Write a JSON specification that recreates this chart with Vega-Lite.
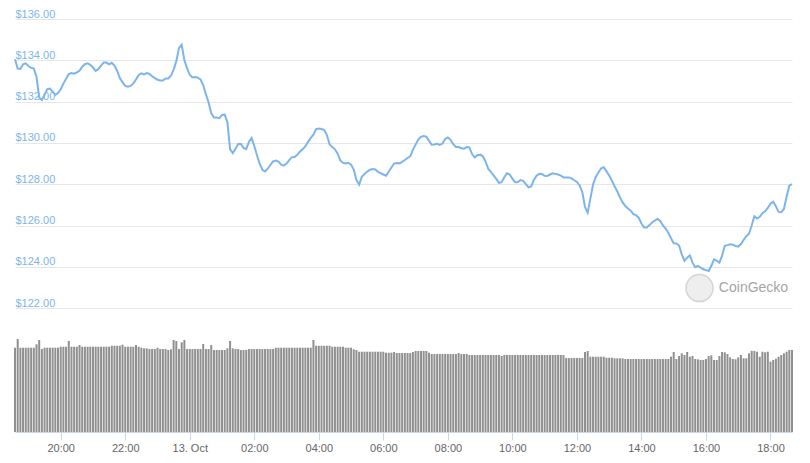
{
"$schema": "https://vega.github.io/schema/vega-lite/v6.json",
"width": 777, "height": 413,
"autosize": {"type": "none"},
"padding": {"left": 15, "top": 19, "right": 18, "bottom": 31},
"background": "#ffffff",
"config": {"view": {"stroke": null}, "font": "Liberation Sans"},
"data": {"values": [
{"t":"2019-10-12T18:35","p":134.05,"v":2041},{"t":"2019-10-12T18:40","p":133.6,"v":2252},{"t":"2019-10-12T18:45","p":133.58,"v":2041},{"t":"2019-10-12T18:50","p":133.81,"v":2041},{"t":"2019-10-12T18:55","p":133.85,"v":2041},
{"t":"2019-10-12T19:00","p":133.72,"v":2041},{"t":"2019-10-12T19:05","p":133.64,"v":2041},{"t":"2019-10-12T19:10","p":133.6,"v":2041},{"t":"2019-10-12T19:15","p":133.2,"v":2123},{"t":"2019-10-12T19:20","p":132.2,"v":2227},{"t":"2019-10-12T19:25","p":132.07,"v":2009},{"t":"2019-10-12T19:30","p":132.34,"v":2041},{"t":"2019-10-12T19:35","p":132.6,"v":2041},{"t":"2019-10-12T19:40","p":132.63,"v":2041},{"t":"2019-10-12T19:45","p":132.48,"v":2041},{"t":"2019-10-12T19:50","p":132.32,"v":2041},{"t":"2019-10-12T19:55","p":132.41,"v":2041},
{"t":"2019-10-12T20:00","p":132.6,"v":2065},{"t":"2019-10-12T20:05","p":132.87,"v":2065},{"t":"2019-10-12T20:10","p":133.11,"v":2065},{"t":"2019-10-12T20:15","p":133.33,"v":2203},{"t":"2019-10-12T20:20","p":133.38,"v":2065},{"t":"2019-10-12T20:25","p":133.35,"v":2065},{"t":"2019-10-12T20:30","p":133.42,"v":2065},{"t":"2019-10-12T20:35","p":133.49,"v":2106},{"t":"2019-10-12T20:40","p":133.69,"v":2065},{"t":"2019-10-12T20:45","p":133.81,"v":2065},{"t":"2019-10-12T20:50","p":133.85,"v":2065},{"t":"2019-10-12T20:55","p":133.78,"v":2065},
{"t":"2019-10-12T21:00","p":133.65,"v":2065},{"t":"2019-10-12T21:05","p":133.49,"v":2065},{"t":"2019-10-12T21:10","p":133.57,"v":2065},{"t":"2019-10-12T21:15","p":133.74,"v":2065},{"t":"2019-10-12T21:20","p":133.89,"v":2065},{"t":"2019-10-12T21:25","p":133.89,"v":2065},{"t":"2019-10-12T21:30","p":133.8,"v":2065},{"t":"2019-10-12T21:35","p":133.88,"v":2089},{"t":"2019-10-12T21:40","p":133.74,"v":2089},{"t":"2019-10-12T21:45","p":133.49,"v":2089},{"t":"2019-10-12T21:50","p":133.14,"v":2089},{"t":"2019-10-12T21:55","p":132.93,"v":2114},
{"t":"2019-10-12T22:00","p":132.76,"v":2065},{"t":"2019-10-12T22:05","p":132.72,"v":2065},{"t":"2019-10-12T22:10","p":132.76,"v":2065},{"t":"2019-10-12T22:15","p":132.88,"v":2065},{"t":"2019-10-12T22:20","p":133.07,"v":2106},{"t":"2019-10-12T22:25","p":133.29,"v":2065},{"t":"2019-10-12T22:30","p":133.37,"v":2041},{"t":"2019-10-12T22:35","p":133.32,"v":2026},{"t":"2019-10-12T22:40","p":133.38,"v":2026},{"t":"2019-10-12T22:45","p":133.34,"v":2009},{"t":"2019-10-12T22:50","p":133.23,"v":2009},{"t":"2019-10-12T22:55","p":133.14,"v":2009},
{"t":"2019-10-12T23:00","p":133.06,"v":2041},{"t":"2019-10-12T23:05","p":133.02,"v":2009},{"t":"2019-10-12T23:10","p":133.02,"v":2009},{"t":"2019-10-12T23:15","p":133.12,"v":2009},{"t":"2019-10-12T23:20","p":133.12,"v":1985},{"t":"2019-10-12T23:25","p":133.25,"v":2002},{"t":"2019-10-12T23:30","p":133.55,"v":2227},{"t":"2019-10-12T23:35","p":133.96,"v":2203},{"t":"2019-10-12T23:40","p":134.6,"v":2009},{"t":"2019-10-12T23:45","p":134.75,"v":2172},{"t":"2019-10-12T23:50","p":134.0,"v":2227},{"t":"2019-10-12T23:55","p":133.62,"v":2009},
{"t":"2019-10-13T00:00","p":133.3,"v":2009},{"t":"2019-10-13T00:05","p":133.17,"v":2009},{"t":"2019-10-13T00:10","p":133.19,"v":2009},{"t":"2019-10-13T00:15","p":133.16,"v":2009},{"t":"2019-10-13T00:20","p":133.07,"v":2009},{"t":"2019-10-13T00:25","p":132.8,"v":2130},{"t":"2019-10-13T00:30","p":132.36,"v":2009},{"t":"2019-10-13T00:35","p":131.96,"v":2009},{"t":"2019-10-13T00:40","p":131.43,"v":2106},{"t":"2019-10-13T00:45","p":131.23,"v":1985},{"t":"2019-10-13T00:50","p":131.23,"v":1985},{"t":"2019-10-13T00:55","p":131.2,"v":1985},
{"t":"2019-10-13T01:00","p":131.35,"v":1985},{"t":"2019-10-13T01:05","p":131.37,"v":1985},{"t":"2019-10-13T01:10","p":131.0,"v":2026},{"t":"2019-10-13T01:15","p":129.7,"v":2203},{"t":"2019-10-13T01:20","p":129.5,"v":2026},{"t":"2019-10-13T01:25","p":129.72,"v":2009},{"t":"2019-10-13T01:30","p":129.95,"v":2009},{"t":"2019-10-13T01:35","p":129.95,"v":1985},{"t":"2019-10-13T01:40","p":129.76,"v":1985},{"t":"2019-10-13T01:45","p":129.7,"v":1985},{"t":"2019-10-13T01:50","p":130.05,"v":2009},{"t":"2019-10-13T01:55","p":130.24,"v":2009},
{"t":"2019-10-13T02:00","p":129.85,"v":2009},{"t":"2019-10-13T02:05","p":129.4,"v":2009},{"t":"2019-10-13T02:10","p":128.99,"v":2009},{"t":"2019-10-13T02:15","p":128.7,"v":2009},{"t":"2019-10-13T02:20","p":128.62,"v":2009},{"t":"2019-10-13T02:25","p":128.75,"v":2009},{"t":"2019-10-13T02:30","p":128.94,"v":2009},{"t":"2019-10-13T02:35","p":129.1,"v":2009},{"t":"2019-10-13T02:40","p":129.14,"v":2041},{"t":"2019-10-13T02:45","p":129.09,"v":2041},{"t":"2019-10-13T02:50","p":128.95,"v":2041},{"t":"2019-10-13T02:55","p":128.9,"v":2041},
{"t":"2019-10-13T03:00","p":129.0,"v":2041},{"t":"2019-10-13T03:05","p":129.17,"v":2041},{"t":"2019-10-13T03:10","p":129.31,"v":2041},{"t":"2019-10-13T03:15","p":129.32,"v":2041},{"t":"2019-10-13T03:20","p":129.42,"v":2041},{"t":"2019-10-13T03:25","p":129.58,"v":2041},{"t":"2019-10-13T03:30","p":129.69,"v":2041},{"t":"2019-10-13T03:35","p":129.84,"v":2041},{"t":"2019-10-13T03:40","p":130.05,"v":2041},{"t":"2019-10-13T03:45","p":130.24,"v":2041},{"t":"2019-10-13T03:50","p":130.4,"v":2227},{"t":"2019-10-13T03:55","p":130.67,"v":2089},
{"t":"2019-10-13T04:00","p":130.7,"v":2089},{"t":"2019-10-13T04:05","p":130.67,"v":2089},{"t":"2019-10-13T04:10","p":130.62,"v":2089},{"t":"2019-10-13T04:15","p":130.38,"v":2089},{"t":"2019-10-13T04:20","p":129.93,"v":2089},{"t":"2019-10-13T04:25","p":129.8,"v":2065},{"t":"2019-10-13T04:30","p":129.69,"v":2065},{"t":"2019-10-13T04:35","p":129.48,"v":2065},{"t":"2019-10-13T04:40","p":129.15,"v":2065},{"t":"2019-10-13T04:45","p":129.03,"v":2065},{"t":"2019-10-13T04:50","p":129.0,"v":2041},{"t":"2019-10-13T04:55","p":129.04,"v":2041},
{"t":"2019-10-13T05:00","p":128.95,"v":2041},{"t":"2019-10-13T05:05","p":128.71,"v":2002},{"t":"2019-10-13T05:10","p":128.2,"v":1985},{"t":"2019-10-13T05:15","p":127.98,"v":1944},{"t":"2019-10-13T05:20","p":128.36,"v":1944},{"t":"2019-10-13T05:25","p":128.5,"v":1944},{"t":"2019-10-13T05:30","p":128.61,"v":1944},{"t":"2019-10-13T05:35","p":128.7,"v":1944},{"t":"2019-10-13T05:40","p":128.73,"v":1944},{"t":"2019-10-13T05:45","p":128.71,"v":1944},{"t":"2019-10-13T05:50","p":128.6,"v":1944},{"t":"2019-10-13T05:55","p":128.54,"v":1944},
{"t":"2019-10-13T06:00","p":128.47,"v":1944},{"t":"2019-10-13T06:05","p":128.41,"v":1920},{"t":"2019-10-13T06:10","p":128.6,"v":1920},{"t":"2019-10-13T06:15","p":128.81,"v":1920},{"t":"2019-10-13T06:20","p":129.0,"v":1937},{"t":"2019-10-13T06:25","p":129.03,"v":1913},{"t":"2019-10-13T06:30","p":129.01,"v":1913},{"t":"2019-10-13T06:35","p":129.08,"v":1913},{"t":"2019-10-13T06:40","p":129.17,"v":1913},{"t":"2019-10-13T06:45","p":129.27,"v":1913},{"t":"2019-10-13T06:50","p":129.35,"v":1913},{"t":"2019-10-13T06:55","p":129.66,"v":1937},
{"t":"2019-10-13T07:00","p":129.92,"v":1961},{"t":"2019-10-13T07:05","p":130.16,"v":1961},{"t":"2019-10-13T07:10","p":130.29,"v":1961},{"t":"2019-10-13T07:15","p":130.33,"v":1961},{"t":"2019-10-13T07:20","p":130.3,"v":1961},{"t":"2019-10-13T07:25","p":130.1,"v":1920},{"t":"2019-10-13T07:30","p":129.91,"v":1888},{"t":"2019-10-13T07:35","p":129.92,"v":1888},{"t":"2019-10-13T07:40","p":129.96,"v":1888},{"t":"2019-10-13T07:45","p":129.9,"v":1888},{"t":"2019-10-13T07:50","p":129.97,"v":1888},{"t":"2019-10-13T07:55","p":130.19,"v":1888},
{"t":"2019-10-13T08:00","p":130.26,"v":1888},{"t":"2019-10-13T08:05","p":130.15,"v":1888},{"t":"2019-10-13T08:10","p":129.94,"v":1888},{"t":"2019-10-13T08:15","p":129.8,"v":1888},{"t":"2019-10-13T08:20","p":129.8,"v":1913},{"t":"2019-10-13T08:25","p":129.74,"v":1888},{"t":"2019-10-13T08:30","p":129.72,"v":1888},{"t":"2019-10-13T08:35","p":129.8,"v":1888},{"t":"2019-10-13T08:40","p":129.78,"v":1864},{"t":"2019-10-13T08:45","p":129.46,"v":1864},{"t":"2019-10-13T08:50","p":129.3,"v":1864},{"t":"2019-10-13T08:55","p":129.4,"v":1864},
{"t":"2019-10-13T09:00","p":129.43,"v":1864},{"t":"2019-10-13T09:05","p":129.35,"v":1864},{"t":"2019-10-13T09:10","p":129.1,"v":1864},{"t":"2019-10-13T09:15","p":128.75,"v":1864},{"t":"2019-10-13T09:20","p":128.6,"v":1864},{"t":"2019-10-13T09:25","p":128.43,"v":1864},{"t":"2019-10-13T09:30","p":128.26,"v":1864},{"t":"2019-10-13T09:35","p":128.07,"v":1864},{"t":"2019-10-13T09:40","p":128.1,"v":1840},{"t":"2019-10-13T09:45","p":128.34,"v":1864},{"t":"2019-10-13T09:50","p":128.53,"v":1864},{"t":"2019-10-13T09:55","p":128.47,"v":1864},
{"t":"2019-10-13T10:00","p":128.27,"v":1864},{"t":"2019-10-13T10:05","p":128.1,"v":1864},{"t":"2019-10-13T10:10","p":128.1,"v":1864},{"t":"2019-10-13T10:15","p":128.2,"v":1864},{"t":"2019-10-13T10:20","p":128.16,"v":1864},{"t":"2019-10-13T10:25","p":128.0,"v":1864},{"t":"2019-10-13T10:30","p":127.85,"v":1864},{"t":"2019-10-13T10:35","p":127.89,"v":1864},{"t":"2019-10-13T10:40","p":128.2,"v":1864},{"t":"2019-10-13T10:45","p":128.41,"v":1864},{"t":"2019-10-13T10:50","p":128.5,"v":1864},{"t":"2019-10-13T10:55","p":128.49,"v":1864},
{"t":"2019-10-13T11:00","p":128.41,"v":1864},{"t":"2019-10-13T11:05","p":128.4,"v":1864},{"t":"2019-10-13T11:10","p":128.47,"v":1864},{"t":"2019-10-13T11:15","p":128.53,"v":1864},{"t":"2019-10-13T11:20","p":128.5,"v":1864},{"t":"2019-10-13T11:25","p":128.47,"v":1864},{"t":"2019-10-13T11:30","p":128.42,"v":1864},{"t":"2019-10-13T11:35","p":128.33,"v":1864},{"t":"2019-10-13T11:40","p":128.33,"v":1792},{"t":"2019-10-13T11:45","p":128.33,"v":1792},{"t":"2019-10-13T11:50","p":128.28,"v":1792},{"t":"2019-10-13T11:55","p":128.19,"v":1792},
{"t":"2019-10-13T12:00","p":128.11,"v":1792},{"t":"2019-10-13T12:05","p":127.94,"v":1792},{"t":"2019-10-13T12:10","p":127.62,"v":1792},{"t":"2019-10-13T12:15","p":126.9,"v":1937},{"t":"2019-10-13T12:20","p":126.62,"v":1961},{"t":"2019-10-13T12:25","p":127.3,"v":1823},{"t":"2019-10-13T12:30","p":127.98,"v":1823},{"t":"2019-10-13T12:35","p":128.35,"v":1823},{"t":"2019-10-13T12:40","p":128.57,"v":1823},{"t":"2019-10-13T12:45","p":128.77,"v":1823},{"t":"2019-10-13T12:50","p":128.82,"v":1823},{"t":"2019-10-13T12:55","p":128.62,"v":1799},
{"t":"2019-10-13T13:00","p":128.42,"v":1799},{"t":"2019-10-13T13:05","p":128.17,"v":1799},{"t":"2019-10-13T13:10","p":127.9,"v":1784},{"t":"2019-10-13T13:15","p":127.66,"v":1784},{"t":"2019-10-13T13:20","p":127.37,"v":1784},{"t":"2019-10-13T13:25","p":127.12,"v":1784},{"t":"2019-10-13T13:30","p":126.94,"v":1767},{"t":"2019-10-13T13:35","p":126.82,"v":1767},{"t":"2019-10-13T13:40","p":126.72,"v":1767},{"t":"2019-10-13T13:45","p":126.55,"v":1767},{"t":"2019-10-13T13:50","p":126.5,"v":1767},{"t":"2019-10-13T13:55","p":126.37,"v":1767},
{"t":"2019-10-13T14:00","p":126.1,"v":1767},{"t":"2019-10-13T14:05","p":125.9,"v":1767},{"t":"2019-10-13T14:10","p":125.9,"v":1767},{"t":"2019-10-13T14:15","p":126.02,"v":1767},{"t":"2019-10-13T14:20","p":126.15,"v":1767},{"t":"2019-10-13T14:25","p":126.24,"v":1767},{"t":"2019-10-13T14:30","p":126.32,"v":1767},{"t":"2019-10-13T14:35","p":126.22,"v":1767},{"t":"2019-10-13T14:40","p":126.0,"v":1767},{"t":"2019-10-13T14:45","p":125.85,"v":1767},{"t":"2019-10-13T14:50","p":125.65,"v":1767},{"t":"2019-10-13T14:55","p":125.38,"v":1823},
{"t":"2019-10-13T15:00","p":125.14,"v":1937},{"t":"2019-10-13T15:05","p":125.13,"v":1767},{"t":"2019-10-13T15:10","p":125.03,"v":1840},{"t":"2019-10-13T15:15","p":124.6,"v":1905},{"t":"2019-10-13T15:20","p":124.29,"v":1864},{"t":"2019-10-13T15:25","p":124.44,"v":1937},{"t":"2019-10-13T15:30","p":124.55,"v":1823},{"t":"2019-10-13T15:35","p":124.2,"v":1840},{"t":"2019-10-13T15:40","p":123.98,"v":1767},{"t":"2019-10-13T15:45","p":124.04,"v":1760},{"t":"2019-10-13T15:50","p":123.96,"v":1743},{"t":"2019-10-13T15:55","p":123.88,"v":1743},
{"t":"2019-10-13T16:00","p":123.84,"v":1767},{"t":"2019-10-13T16:05","p":123.8,"v":1840},{"t":"2019-10-13T16:10","p":124.05,"v":1857},{"t":"2019-10-13T16:15","p":124.36,"v":1743},{"t":"2019-10-13T16:20","p":124.3,"v":1743},{"t":"2019-10-13T16:25","p":124.2,"v":1840},{"t":"2019-10-13T16:30","p":124.54,"v":1937},{"t":"2019-10-13T16:35","p":125.02,"v":1930},{"t":"2019-10-13T16:40","p":125.05,"v":1888},{"t":"2019-10-13T16:45","p":125.09,"v":1808},{"t":"2019-10-13T16:50","p":125.07,"v":1767},{"t":"2019-10-13T16:55","p":125.01,"v":1760},
{"t":"2019-10-13T17:00","p":124.98,"v":1808},{"t":"2019-10-13T17:05","p":125.1,"v":1864},{"t":"2019-10-13T17:10","p":125.3,"v":1784},{"t":"2019-10-13T17:15","p":125.48,"v":1784},{"t":"2019-10-13T17:20","p":125.6,"v":1905},{"t":"2019-10-13T17:25","p":126.0,"v":1968},{"t":"2019-10-13T17:30","p":126.45,"v":1961},{"t":"2019-10-13T17:35","p":126.34,"v":1944},{"t":"2019-10-13T17:40","p":126.42,"v":1823},{"t":"2019-10-13T17:45","p":126.6,"v":1944},{"t":"2019-10-13T17:50","p":126.69,"v":1930},{"t":"2019-10-13T17:55","p":126.85,"v":1944},
{"t":"2019-10-13T18:00","p":127.06,"v":1702},{"t":"2019-10-13T18:05","p":127.15,"v":1743},{"t":"2019-10-13T18:10","p":126.93,"v":1775},{"t":"2019-10-13T18:15","p":126.66,"v":1823},{"t":"2019-10-13T18:20","p":126.64,"v":1864},{"t":"2019-10-13T18:25","p":126.8,"v":1905},{"t":"2019-10-13T18:30","p":127.4,"v":1944},{"t":"2019-10-13T18:35","p":127.93,"v":1985},{"t":"2019-10-13T18:40","p":128.0,"v":1985}
]},
"layer": [
  {
    "mark": {"type": "bar", "color": "#909090", "size": 2},
    "encoding": {
      "x": {"field": "t", "type": "temporal",
        "scale": {"domain": [{"year": 2019, "month": 10, "date": 12, "hours": 18, "minutes": 35}, {"year": 2019, "month": 10, "date": 13, "hours": 18, "minutes": 40}], "padding": 0, "nice": false},
        "axis": {"title": null, "grid": false,
          "values": [{"year": 2019, "month": 10, "date": 12, "hours": 20}, {"year": 2019, "month": 10, "date": 12, "hours": 22}, {"year": 2019, "month": 10, "date": 13, "hours": 0}, {"year": 2019, "month": 10, "date": 13, "hours": 2}, {"year": 2019, "month": 10, "date": 13, "hours": 4}, {"year": 2019, "month": 10, "date": 13, "hours": 6}, {"year": 2019, "month": 10, "date": 13, "hours": 8}, {"year": 2019, "month": 10, "date": 13, "hours": 10}, {"year": 2019, "month": 10, "date": 13, "hours": 12}, {"year": 2019, "month": 10, "date": 13, "hours": 14}, {"year": 2019, "month": 10, "date": 13, "hours": 16}, {"year": 2019, "month": 10, "date": 13, "hours": 18}],
          "labelExpr": "hours(datum.value) == 0 ? timeFormat(datum.value, '%d. %b') : timeFormat(datum.value, '%H:%M')",
          "domainColor": "#ccd6eb", "tickColor": "#ccd6eb", "tickSize": 8, "labelColor": "#666666",
          "labelFont": "Liberation Sans", "labelFontSize": 11, "labelPadding": 2, "labelFlush": false, "labelOverlap": false}},
      "y": {"field": "v", "type": "quantitative", "scale": {"domain": [0, 10000]}, "axis": null}
    }
  },
  {
    "mark": {"type": "line", "color": "#7cb5ec", "strokeWidth": 2},
    "encoding": {
      "x": {"field": "t", "type": "temporal"},
      "y": {"field": "p", "type": "quantitative", "scale": {"domain": [116, 136], "nice": false, "zero": false},
        "axis": {"title": null, "values": [122, 124, 126, 128, 130, 132, 134, 136], "format": "$.2f", "orient": "left",
          "domain": false, "ticks": false, "grid": true, "gridColor": "#e6e6e6", "gridWidth": 1,
          "labelAlign": "left", "labelBaseline": "alphabetic", "labelPadding": 0, "labelOffset": -2,
          "labelColor": "#7cb5ec", "labelFont": "Liberation Sans", "labelFontSize": 11, "labelFlush": false, "labelOverlap": false}}
    }
  },
  {
    "data": {"values": [{"label": "CoinGecko"}]},
    "mark": {"type": "point", "shape": "circle", "filled": true, "size": 729, "fill": "#eeeeee", "stroke": "#d4d4d4", "strokeWidth": 1.5, "opacity": 1},
    "encoding": {
      "x": {"datum": {"year": 2019, "month": 10, "date": 13, "hours": 15, "minutes": 48}, "type": "temporal"},
      "y": {"datum": 122.97, "type": "quantitative", "scale": {"domain": [116, 136], "nice": false, "zero": false}, "axis": null}
    }
  },
  {
    "data": {"values": [{"label": "CoinGecko"}]},
    "mark": {"type": "text", "fontSize": 14, "color": "#a5a5a5", "align": "left", "baseline": "middle", "font": "Liberation Sans"},
    "encoding": {
      "x": {"datum": {"year": 2019, "month": 10, "date": 13, "hours": 16, "minutes": 24}, "type": "temporal"},
      "y": {"datum": 122.97, "type": "quantitative", "scale": {"domain": [116, 136], "nice": false, "zero": false}, "axis": null},
      "text": {"field": "label"}
    }
  }
],
"resolve": {"scale": {"y": "independent"}}
}
